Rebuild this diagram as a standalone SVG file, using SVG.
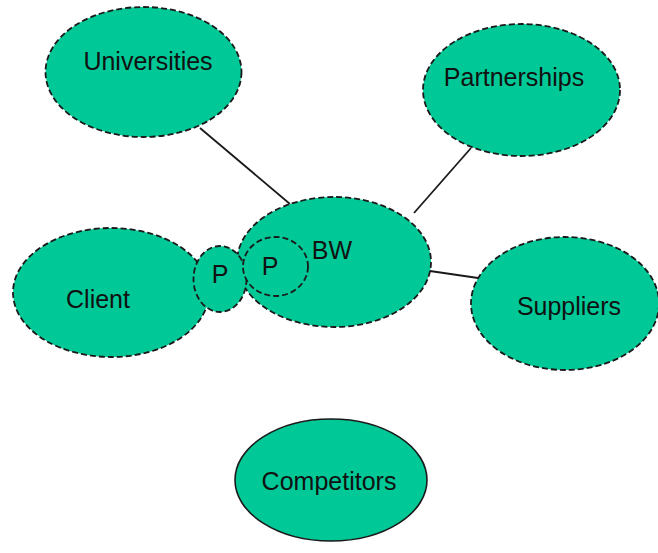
<svg xmlns="http://www.w3.org/2000/svg" width="658" height="553" viewBox="0 0 658 553">
<style>
.n{fill:#00C896;stroke:#1a1a1a;stroke-width:1.8;stroke-dasharray:6 3}
.s{fill:#00C896;stroke:#1a1a1a;stroke-width:1.6}
.t{font-family:"Liberation Sans",Arial,sans-serif;font-size:25px;fill:#111111;text-anchor:middle}
.c{stroke:#1a1a1a;stroke-width:1.8;fill:none}
</style>
<rect width="658" height="553" fill="#ffffff"/>
<g id="connectors">
<line class="c" x1="200" y1="128" x2="290" y2="204"/>
<line class="c" x1="471" y1="148" x2="414" y2="213"/>
<line class="c" x1="430" y1="271" x2="478" y2="278"/>
</g>
<g id="universities"><ellipse class="n" cx="143.5" cy="72" rx="98" ry="65"/><text class="t" x="148" y="70">Universities</text></g>
<g id="partnerships"><ellipse class="n" cx="521.5" cy="90" rx="98.5" ry="66"/><text class="t" x="514" y="86">Partnerships</text></g>
<g id="client"><ellipse class="n" cx="111" cy="292.5" rx="98" ry="64.5"/><text class="t" x="98" y="308">Client</text></g>
<g id="suppliers"><ellipse class="n" cx="565" cy="303.5" rx="94" ry="66.5"/><text class="t" x="569" y="315">Suppliers</text></g>
<g id="bw"><ellipse class="n" cx="334" cy="262" rx="97" ry="65"/><text class="t" x="332" y="259">BW</text></g>
<g id="p-left"><ellipse class="n" cx="220" cy="279" rx="26.5" ry="33"/><text class="t" x="220" y="283">P</text></g>
<g id="p-inner"><ellipse class="n" cx="275.5" cy="266.5" rx="32.5" ry="29.5"/><text class="t" x="270" y="275">P</text></g>
<g id="competitors"><ellipse class="s" cx="331" cy="480" rx="96" ry="61"/><text class="t" x="329" y="490">Competitors</text></g>
</svg>
